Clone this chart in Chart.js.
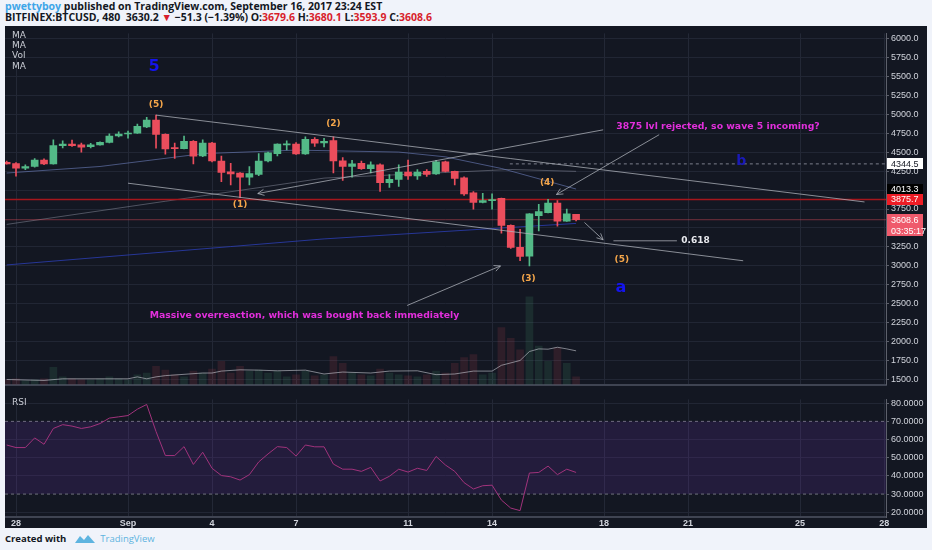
<!DOCTYPE html>
<html>
<head>
<meta charset="utf-8">
<script src="https://cdn.jsdelivr.net/npm/chart.js@4.4.0/dist/chart.umd.min.js"></script>
<style>
  body { margin: 0; width: 932px; height: 550px; overflow: hidden; position: relative; background: #f0f3fa; font-family: 'Open Sans', 'DejaVu Sans', sans-serif; }
  .hdr { position: absolute; left: 5px; font-family: 'Open Sans', sans-serif; font-size: 10.5px; font-weight: 700; color: #131722; white-space: nowrap; line-height: 11px; }
  .red { color: #d81e2c; }
  #panel { position: absolute; left: 5px; top: 26px; width: 922px; height: 502px; background: #131722; }
  canvas { position: absolute; left: 5px; }
  .lg { position: absolute; left: 12px; font: 9px 'DejaVu Sans', sans-serif; color: #c9ccd4; z-index: 3; }
  #foot { position: absolute; left: 5px; top: 532px; font-size: 9.5px; white-space: nowrap; }
</style>
</head>
<body>
<div class="hdr" style="top:1px"><span style="color:#3ea6e8">pwettyboy</span> published on TradingView.com, September 16, 2017 23:24 EST</div>
<div class="hdr" style="top:12px">BITFINEX:BTCUSD, 480&nbsp; 3630.2 <span class="red">&#9660;</span> &minus;51.3 (&minus;1.39%) O:<span class="red">3679.6</span> H:<span class="red">3680.1</span> L:<span class="red">3593.9</span> C:<span class="red">3608.6</span></div>
<div id="panel"></div>
<canvas id="main" width="922" height="366" style="top:26px"></canvas>
<canvas id="rsi" width="922" height="136" style="top:392px"></canvas>
<div class="lg" style="top:30px">MA</div>
<div class="lg" style="top:40px">MA</div>
<div class="lg" style="top:50px">Vol</div>
<div class="lg" style="top:61px">MA</div>
<div class="lg" style="top:397px">RSI</div>
<div id="foot">
  <span style="font-weight:700;color:#131722">Created with</span>
  <svg width="20" height="9" viewBox="0 0 20 9" style="margin:0 3px 0 6px;vertical-align:-1px"><path d="M0 9 L5 2 L9 6 L13 1 L20 9 Z" fill="#5eb4e0"/></svg>
  <span style="color:#5eb4e0">TradingView</span>
</div>

<script>
// 8h bars, index 0 = Aug 28 00:00
const barIdx = [-1, 0, 1, 2, 3, 4, 5, 6, 7, 8, 9, 10, 11, 12, 13, 14, 15, 16, 17, 18, 19, 20,
  21, 22, 23, 24, 25, 26, 27, 28, 29, 30, 31, 32, 33, 34, 35, 36, 37, 38, 39, 40,
  41, 42, 43, 44, 45, 46, 47, 48, 49, 50, 51, 52, 53, 54, 55, 56, 57, 58, 59, 60];
const opens = [4365, 4348, 4288, 4310, 4395, 4344, 4585, 4605, 4594, 4570, 4595, 4627, 4712, 4738, 4750, 4830, 4923, 4733, 4555, 4545, 4640, 4449,
  4618, 4382, 4240, 4224, 4170, 4207, 4382, 4479, 4595, 4606, 4475, 4669, 4622, 4650, 4386, 4310, 4352, 4280, 4331, 4097,
  4140, 4237, 4186, 4245, 4212, 4373, 4246, 4160, 3963, 3836, 3860, 3890, 3534, 3245, 3127, 3661, 3703, 3827, 3589, 3679.6];
const highs = [4380, 4360, 4331, 4415, 4410, 4662, 4649, 4657, 4620, 4615, 4635, 4742, 4767, 4776, 4870, 4958, 4987, 4740, 4618, 4712, 4650, 4662,
  4630, 4446, 4352, 4230, 4310, 4479, 4500, 4610, 4649, 4625, 4700, 4690, 4680, 4700, 4428, 4390, 4380, 4370, 4345, 4204,
  4331, 4395, 4270, 4270, 4390, 4380, 4250, 4175, 3980, 3957, 3950, 3895, 3540, 3483, 3690, 3810, 3877, 3860, 3750, 3680.1];
const lows = [4340, 4182, 4268, 4300, 4335, 4340, 4555, 4575, 4500, 4555, 4590, 4620, 4700, 4682, 4745, 4820, 4551, 4471, 4415, 4540, 4344, 4440,
  4370, 4110, 4068, 3899, 4068, 4190, 4370, 4449, 4530, 4470, 4470, 4573, 4567, 4224, 4128, 4170, 4270, 4224, 3983, 4034,
  4046, 4140, 4140, 4180, 4205, 4240, 4068, 3930, 3747, 3830, 3747, 3433, 3230, 3068, 3000, 3462, 3700, 3525, 3585, 3593.9];
const closes = [4345, 4288, 4310, 4395, 4344, 4585, 4605, 4585, 4565, 4595, 4627, 4712, 4738, 4750, 4840, 4923, 4733, 4542, 4545, 4640, 4446, 4618,
  4382, 4233, 4212, 4170, 4217, 4382, 4491, 4606, 4606, 4475, 4669, 4618, 4640, 4382, 4310, 4344, 4280, 4331, 4097, 4140,
  4237, 4186, 4237, 4204, 4373, 4246, 4153, 3950, 3836, 3861, 3874, 3534, 3243, 3124, 3687, 3716, 3827, 3589, 3687, 3608.6];
// relative volume
const volumes = [5, 6, 4, 5, 6, 18, 8, 6, 5, 5, 6, 8, 6, 5, 10, 12, 19, 15, 10, 8, 14, 12,
  16, 24, 12, 19, 14, 15, 12, 14, 8, 10, 14, 9, 10, 29, 22, 12, 10, 9, 16, 12,
  10, 9, 8, 10, 14, 12, 22, 28, 31, 10, 12, 59, 48, 36, 91, 40, 24, 38, 22, 8];
const rsiVals = [57, 55.6, 55.6, 60.9, 57.4, 66.1, 68.2, 67.4, 66.1, 67, 68.8, 71.8, 72.5, 73.2, 76.7, 79.3, 64.4, 51.2, 51.2, 56.1, 46.3, 53,
  44.2, 40.2, 39.5, 37.7, 40.7, 47.7, 52.1, 56.1, 55.6, 50.9, 57, 56, 56, 46.5, 43.7, 43.7, 42.5, 44.7, 37.2, 39.8,
  43.7, 42.1, 44.2, 43, 50.7, 46, 42.5, 36.3, 32.8, 34.6, 34.9, 26.7, 22.3, 20.9, 41.6, 41.9, 45.4, 40.7, 43.7, 41.9];

// moving averages, read at a few bars
const volMaIdx = [-1, 3, 5, 12, 13, 14, 15, 16, 20, 21, 22, 24, 26, 28, 31, 33, 35, 38, 40, 43, 45, 47, 49, 51, 52, 54, 55, 56, 57, 58, 59, 60];
const volMaVals = [5.3, 4.3, 6, 6, 8, 6, 8, 9.3, 12, 12, 14, 15.3, 15, 14.3, 15, 11, 13, 12, 14, 14.3, 10.3, 11, 14, 14, 20, 25, 34.3, 37, 36.7, 38.7, 37, 35];
const maFastIdx = [-1, 9, 20, 30, 41, 46, 52, 60];
const maFastVals = [4224, 4310, 4479, 4526, 4500, 4437, 4284, 4013];
const maMidIdx = [-1, 16, 33, 53, 60];
const maMidVals = [3547, 3852, 4157, 4271, 4246];
const maSlowIdx = [-1, 23, 33, 60];
const maSlowVals = [3013, 3255, 3356, 3560];

// drawings: [bar, price, bar, price]
const trendLines = [[15.0, 4987, 90.9, 3843], [12.0, 4090, 77.9, 3068], [64.0, 3331, 70.8, 3331]];
const arrows = [[62.9, 4793, 25.9, 3954], [68.9, 4729, 57.9, 3941], [41.9, 2479, 51.9, 3000], [60.9, 3572, 62.9, 3344]];
const notes = [
  { text: '5', i: 14.8, p: 5622, kind: 'blue' },
  { text: '(5)', i: 15.0, p: 5123, kind: 'wave' },
  { text: '(1)', i: 24.0, p: 3810, kind: 'wave' },
  { text: '(2)', i: 34.0, p: 4869, kind: 'wave' },
  { text: '(3)', i: 54.9, p: 2835, kind: 'wave' },
  { text: '(4)', i: 56.9, p: 4097, kind: 'wave' },
  { text: '(5)', i: 64.9, p: 3089, kind: 'wave' },
  { text: '0.618', i: 72.8, p: 3327, kind: 'fib' },
  { text: '3875 lvl rejected, so wave 5 incoming?', i: 75.2, p: 4840, kind: 'pink' },
  { text: 'Massive overreaction, which was bought back immediately', i: 30.9, p: 2340, kind: 'pink' },
  { text: 'a', i: 64.8, p: 2712, kind: 'blue' },
  { text: 'b', i: 77.7, p: 4382, kind: 'blue2' }
];
const priceTags = [
  { p: 4344.5, text: '4344.5', kind: 'white' },
  { p: 4013.3, text: '4013.3', kind: 'black' },
  { p: 3875.7, text: '3875.7', kind: 'level' },
  { p: 3608.6, text: '3608.6', kind: 'last' },
  { p: 3608.6, text: '03:35:17', kind: 'timer' }
];
const priceTicks = [1500, 1750, 2000, 2250, 2500, 2750, 3000, 3250, 3500, 3750, 4000, 4250, 4500, 4750, 5000, 5250, 5500, 5750, 6000];
const rsiTicks = [20, 30, 40, 50, 60, 70, 80];
const rsiBands = [70, 30];
const tickIdx = [0, 12, 21, 30, 42, 51, 63, 72, 84, 93];
const tickText = ['28', 'Sep', '4', '7', '11', '14', '18', '21', '25', '28'];

const X_MIN = -1.18, X_MAX = 93.2;
const UP = '#53b987', DOWN = '#eb4d5c';
const GRID = 'rgba(42,47,62,0.75)';
const AXIS = '#5d606b';

Chart.defaults.font.family = "'Liberation Sans', Arial, sans-serif";
Chart.defaults.animation = false;

const isUp = closes.map((c, k) => c >= opens[k]);
const candleCol = isUp.map(u => u ? UP : DOWN);
const pts = (xs, ys) => xs.map((x, k) => ({ x: x, y: ys[k] }));

const noteStyle = {
  wave: { font: "bold 9px 'DejaVu Sans'", color: '#f5a64a' },
  pink: { font: "bold 9.3px 'DejaVu Sans'", color: '#e22fdc' },
  fib: { font: "bold 9px 'DejaVu Sans'", color: '#e8e9ee' },
  blue: { font: "bold 16px 'DejaVu Sans'", color: '#1414ee' },
  blue2: { font: "bold 14px 'DejaVu Sans'", color: '#1a1ab8' }
};
const tagStyle = {
  white: { bg: '#ffffff', fg: '#131722', row: 0 },
  black: { bg: '#000000', fg: '#ffffff', row: 0 },
  level: { bg: '#ee1c25', fg: '#ffffff', row: 0 },
  last: { bg: '#ef5a6c', fg: '#ffffff', row: 0 },
  timer: { bg: '#ef5a6c', fg: '#ffffff', row: 1 }
};

function lineSet(data, color, width, order, extra) {
  return Object.assign({ type: 'line', data: data, borderColor: color, borderWidth: width,
    pointRadius: 0, tension: 0, fill: false, order: order }, extra || {});
}

const datasets = [
  { type: 'bar', label: 'Vol', yAxisID: 'yv', data: pts(barIdx, volumes),
    backgroundColor: isUp.map(u => u ? 'rgba(83,185,135,0.13)' : 'rgba(235,77,92,0.13)'),
    barThickness: 7, grouped: false, order: 20 },
  lineSet(pts(volMaIdx, volMaVals), 'rgba(200,202,210,0.6)', 1, 19, { yAxisID: 'yv' }),
  lineSet(pts(maSlowIdx, maSlowVals), 'rgba(44,62,180,0.8)', 1, 12),
  lineSet(pts(maMidIdx, maMidVals), 'rgba(140,144,160,0.5)', 1, 11),
  lineSet(pts(maFastIdx, maFastVals), 'rgba(110,128,190,0.6)', 1, 10),
  lineSet([{ x: X_MIN, y: 3608.6 }, { x: X_MAX, y: 3608.6 }], 'rgba(235,77,92,0.45)', 1, 9),
  lineSet([{ x: X_MIN, y: 3875.7 }, { x: X_MAX, y: 3875.7 }], '#a5161c', 1.6, 8),
  lineSet([{ x: 52.9, y: 4344.5 }, { x: X_MAX, y: 4344.5 }], 'rgba(150,154,166,0.8)', 1, 8, { borderDash: [3, 3] }),
  { type: 'bar', label: 'wick', data: barIdx.map((x, k) => ({ x: x, y: [lows[k], highs[k]] })),
    backgroundColor: candleCol, barThickness: 1, grouped: false, order: 3 },
  { type: 'bar', label: 'body', data: barIdx.map((x, k) => ({ x: x, y: [opens[k], closes[k]] })),
    backgroundColor: candleCol, barThickness: 7, minBarLength: 1, grouped: false, order: 2 }
];
trendLines.forEach(t => datasets.push(lineSet([{ x: t[0], y: t[1] }, { x: t[2], y: t[3] }], 'rgba(178,181,190,0.75)', 1, 1)));
arrows.forEach(a => datasets.push(lineSet([{ x: a[0], y: a[1] }, { x: a[2], y: a[3] }], 'rgba(178,181,190,0.75)', 1, 1, { arrow: true })));

const overlay = {
  id: 'overlay',
  afterDatasetsDraw(chart) {
    const ctx = chart.ctx, x = chart.scales.x, y = chart.scales.y;
    ctx.save();
    // arrow heads at the end point
    chart.data.datasets.forEach((ds, di) => {
      if (!ds.arrow) return;
      const el = chart.getDatasetMeta(di).data;
      const a = el[0], b = el[1];
      const ang = Math.atan2(b.y - a.y, b.x - a.x);
      ctx.strokeStyle = ds.borderColor;
      ctx.lineWidth = 1;
      ctx.beginPath();
      [-0.45, 0.45].forEach(d => {
        ctx.moveTo(b.x, b.y);
        ctx.lineTo(b.x - 7 * Math.cos(ang + d), b.y - 7 * Math.sin(ang + d));
      });
      ctx.stroke();
    });
    ctx.textAlign = 'center';
    ctx.textBaseline = 'middle';
    notes.forEach(n => {
      const st = noteStyle[n.kind];
      ctx.font = st.font;
      ctx.fillStyle = st.color;
      ctx.fillText(n.text, x.getPixelForValue(n.i), y.getPixelForValue(n.p));
    });
    ctx.restore();
  },
  afterDraw(chart) {
    const ctx = chart.ctx, y = chart.scales.y, left = chart.chartArea.right + 1;
    ctx.save();
    ctx.font = "9px 'Liberation Sans'";
    ctx.textBaseline = 'middle';
    priceTags.forEach(t => {
      const st = tagStyle[t.kind];
      const cy = y.getPixelForValue(t.p) + st.row * 11;
      ctx.fillStyle = st.bg;
      ctx.fillRect(left, Math.round(cy - 5.5), 36, 11);
      ctx.fillStyle = st.fg;
      ctx.fillText(t.text, left + 4, cy + 0.5);
    });
    ctx.restore();
  }
};

new Chart(document.getElementById('main'), {
  type: 'bar',
  data: { datasets: datasets },
  plugins: [overlay],
  options: {
    responsive: false,
    layout: { padding: { top: 1, bottom: 1, left: 0, right: 0 } },
    plugins: { legend: { display: false }, tooltip: { enabled: false } },
    scales: {
      x: {
        type: 'linear', min: X_MIN, max: X_MAX, offset: false,
        afterBuildTicks: s => { s.ticks = tickIdx.map(v => ({ value: v })); },
        afterFit: s => { s.height = 0; },
        ticks: { display: false },
        grid: { color: GRID, drawTicks: false, offset: false },
        border: { color: '#3f4452', width: 2 }
      },
      y: {
        position: 'right', min: 1436.44, max: 6063.56,
        afterBuildTicks: s => { s.ticks = priceTicks.map(v => ({ value: v })); },
        afterFit: s => { s.width = 41; },
        ticks: { color: '#d1d4dc', font: { size: 9 }, padding: 2, callback: v => v.toFixed(1) },
        grid: { color: 'rgba(36,40,54,0.9)', tickColor: AXIS, tickLength: 3 },
        border: { color: AXIS }
      },
      yv: { display: false, min: 0, max: 364 }
    }
  }
});

new Chart(document.getElementById('rsi'), {
  type: 'line',
  data: {
    datasets: [
      lineSet(pts(barIdx, rsiVals), '#a1337c', 1, 1),
      lineSet([{ x: X_MIN, y: rsiBands[0] }, { x: X_MAX, y: rsiBands[0] }], '#6e717c', 1, 3, { borderDash: [3, 3] }),
      lineSet([{ x: X_MIN, y: rsiBands[1] }, { x: X_MAX, y: rsiBands[1] }], '#6e717c', 1, 2,
        { borderDash: [3, 3], fill: '-1', backgroundColor: 'rgba(120,56,190,0.17)' })
    ]
  },
  options: {
    responsive: false,
    layout: { padding: { top: 1, bottom: 0, left: 0, right: 0 } },
    plugins: { legend: { display: false }, tooltip: { enabled: false }, filler: { propagate: false } },
    scales: {
      x: {
        type: 'linear', min: X_MIN, max: X_MAX, offset: false,
        afterBuildTicks: s => { s.ticks = tickIdx.map(v => ({ value: v })); },
        afterFit: s => { s.height = 11; },
        ticks: { color: '#d1d4dc', font: { size: 9, weight: 'bold' }, padding: 1, autoSkip: false, maxRotation: 0,
          callback: v => tickText[tickIdx.indexOf(v)] },
        grid: { color: GRID, drawTicks: false },
        border: { color: '#3f4452', width: 2 }
      },
      y: {
        position: 'right', min: 17.39, max: 82.09,
        afterBuildTicks: s => { s.ticks = rsiTicks.map(v => ({ value: v })); },
        afterFit: s => { s.width = 41; },
        ticks: { color: '#d1d4dc', font: { size: 9 }, padding: 2, callback: v => v.toFixed(4) },
        grid: { color: c => (c.tick && rsiBands.indexOf(c.tick.value) >= 0) ? 'rgba(0,0,0,0)' : 'rgba(36,40,54,0.9)',
          tickColor: AXIS, tickLength: 3 },
        border: { color: AXIS }
      }
    }
  }
});
</script>
</body>
</html>
